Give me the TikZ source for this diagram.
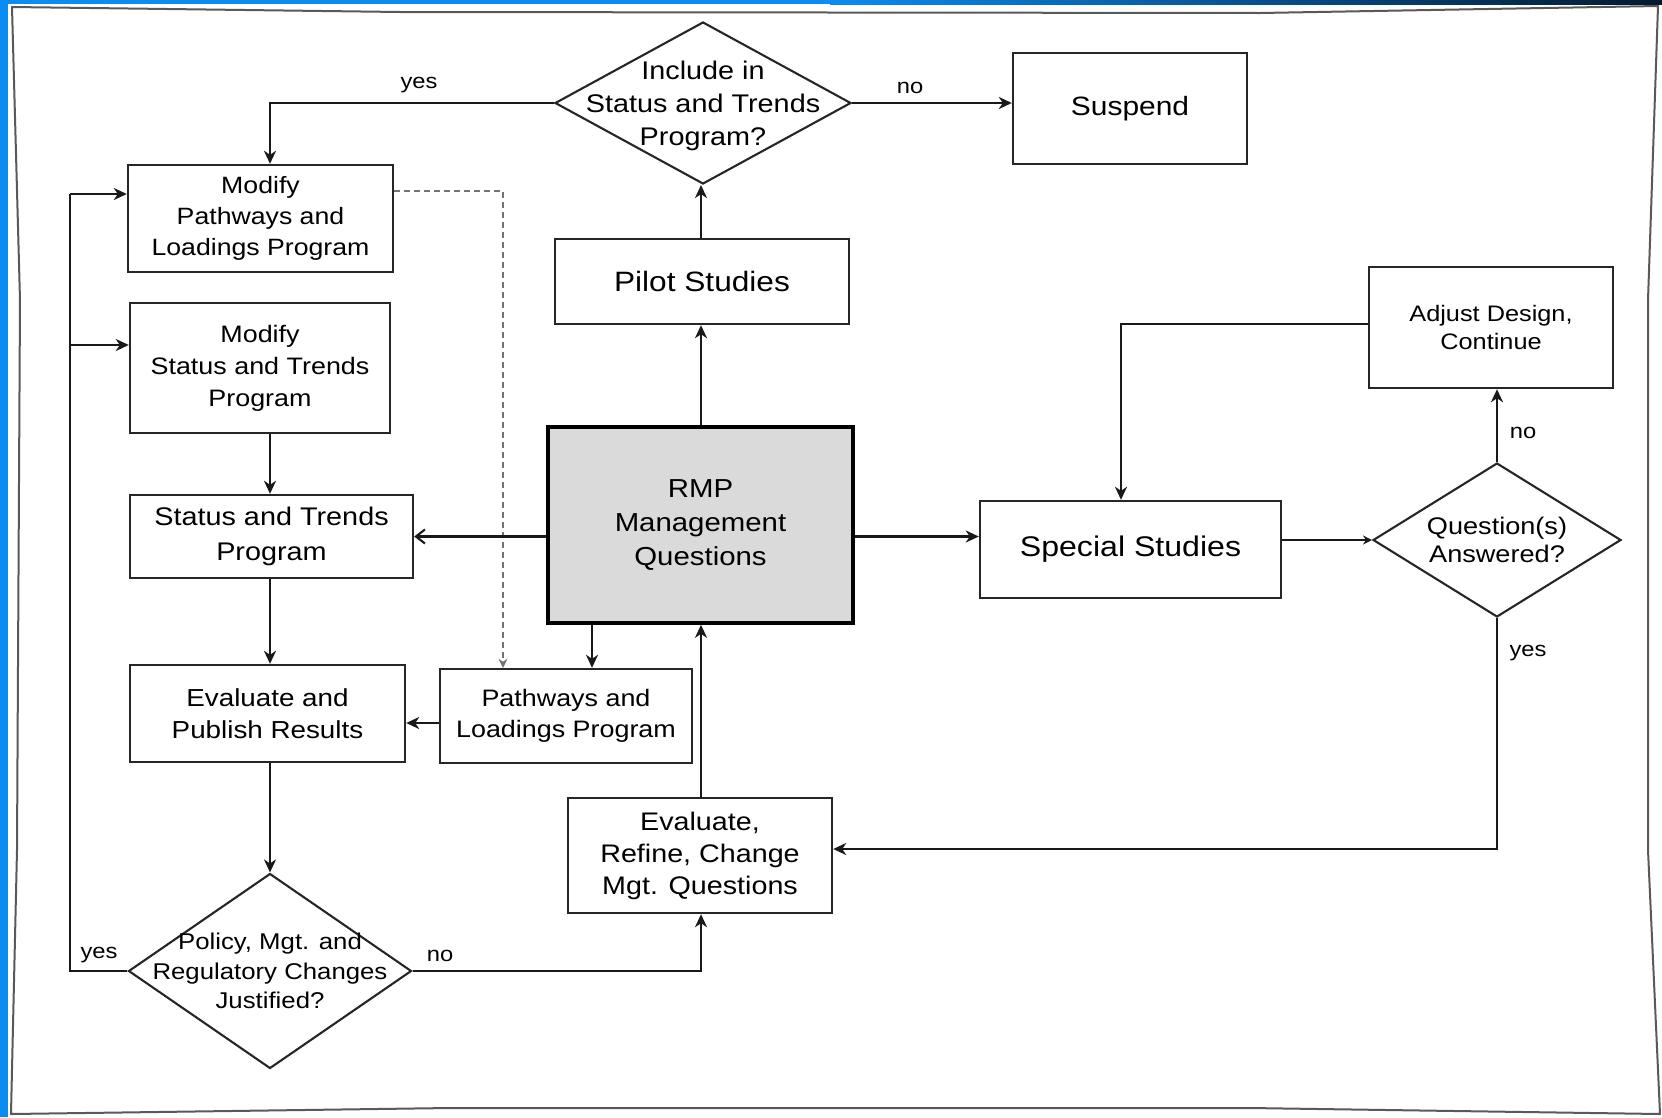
\documentclass[tikz,border=0pt]{standalone}
\usepackage{fontspec}
\setmainfont{Liberation Sans}[FakeStretch=1.13]
\usetikzlibrary{shapes.geometric,arrows.meta}
\definecolor{bgblue}{HTML}{0A8CF2}
\definecolor{navy}{HTML}{04182E}
\definecolor{rmpgray}{HTML}{DADADA}
\newcommand{\fs}[2]{\fontsize{#1pt}{#2pt}\selectfont}
\begin{document}
\begin{tikzpicture}[x=1pt,y=-1pt,
  box/.style={draw=black!85, line width=2.4pt, fill=white, inner sep=0pt, align=center},
  dia/.style={draw=black!85, line width=2.1pt, diamond, fill=white, inner sep=0pt},
  txt/.style={inner sep=0pt, align=center},
  lab/.style={inner sep=0pt, font=\fs{21}{25}},
  con/.style={line width=2.1pt, draw=black!90},
  arr/.style={con, -{Stealth[length=13pt,width=12pt,inset=4pt]}},
  sarr/.style={con, -{Stealth[length=9pt,width=9pt,inset=3pt]}},
  oarr/.style={con, -{Straight Barb[length=9pt,width=14pt]}},
  dasharr/.style={line width=1.7pt, draw=black!55, dash pattern=on 6pt off 4pt, -{Stealth[length=9pt,width=9pt,inset=3pt]}},
]
\useasboundingbox (0,0) rectangle (1662,1117);
% background
\fill[white] (0,0) rectangle (1662,1117);
\fill[bgblue] (0,0) rectangle (8,1117);
\fill[bgblue] (0,0) rectangle (830,4);
\shade[left color=bgblue, right color=navy] (830,0) rectangle (1662,4);
% hand-drawn frame
\draw[line width=2pt, draw=black!65, line join=round] (12,7) -- (400,12) -- (1260,13) -- (1658,6) -- (1648,300) -- (1648,850) -- (1660,1114) -- (1250,1108) -- (450,1108) -- (11,1114) -- (17,850) -- (20,300) -- cycle;

% helper coordinates
\coordinate (cx) at (270,0);
\coordinate (vx) at (701,0);
\coordinate (px) at (592,0);
\coordinate (lp1) at (70,194);
\coordinate (lp2) at (70,345);
\coordinate (dd) at (503,191);
\coordinate (yEP) at (0,723);
\coordinate (ay) at (1121,324);
\coordinate (yb) at (0,849);

% nodes
\node[dia, minimum width=296pt, minimum height=162pt] (d1) at (703,103) {};
\node[txt, font=\fs{25.5}{33}] (d1t) at (703,106) {Include in\\Status and Trends\\Program?};
\node[box, minimum width=234pt, minimum height=111pt, font=\fs{26.5}{32}] (suspend) at (1130,108.5) {Suspend};
\node[box, minimum width=294pt, minimum height=85pt, font=\fs{28}{34}] (pilot) at (702,281.5) {Pilot Studies};
\node[box, minimum width=265pt, minimum height=107pt, font=\fs{23.6}{31}] (mpl) at (260.5,218.5) {Modify\\Pathways and\\Loadings Program};
\node[box, minimum width=260pt, minimum height=130pt, font=\fs{23.8}{32}] (mst) at (260,368) {Modify\\Status and Trends\\Program};
\node[box, minimum width=283pt, minimum height=83pt, font=\fs{25.5}{35}] (st) at (271.5,536.5) {Status and Trends\\Program};
\node[box, minimum width=275pt, minimum height=97pt, font=\fs{24.6}{32}] (ep) at (267.5,713.5) {Evaluate and\\Publish Results};
\node[box, minimum width=252pt, minimum height=94pt, font=\fs{23.8}{31}] (pl) at (566,716) {Pathways and\\Loadings Program};
\node[box, minimum width=264pt, minimum height=115pt, font=\fs{25.4}{32}] (er) at (700,855.5) {Evaluate,\\Refine, Change\\Mgt. Questions};
\node[box, fill=rmpgray, draw=black, line width=3.6pt, minimum width=305pt, minimum height=196pt, font=\fs{26}{34}] (rmp) at (700.5,525) {RMP\\Management\\Questions};
\node[box, minimum width=301pt, minimum height=97pt, font=\fs{28.4}{34}] (special) at (1130.5,549.5) {Special Studies};
\node[box, minimum width=244pt, minimum height=121pt, font=\fs{22.4}{28}] (adjust) at (1491,327.5) {Adjust Design,\\Continue};
\node[dia, minimum width=248pt, minimum height=154pt] (d2) at (1497,540) {};
\node[txt, font=\fs{24}{28}] (d2t) at (d2) {Question(s)\\Answered?};
\node[dia, minimum width=283pt, minimum height=195pt] (d3) at (270,971) {};
\node[txt, font=\fs{22.8}{29.5}] (d3t) at (d3) {Policy, Mgt. and\\Regulatory Changes\\Justified?};

% labels
\node[lab] (l1) at (419,85) {yes};
\node[lab] (l2) at (910,88) {no};
\node[lab] (l3) at (1523,433) {no};
\node[lab] (l4) at (1528,653) {yes};
\node[lab] (l5) at (99,955) {yes};
\node[lab] (l6) at (440,956) {no};

% connectors
\draw[arr] (d1.west) -- (cx |- d1.west) -- (cx |- mpl.north);
\draw[arr] (d1.east) -- (suspend.west |- d1.east);
\draw[arr] (vx |- pilot.north) -- (vx |- d1.south);
\draw[arr] (vx |- rmp.north) -- (vx |- pilot.south);
\draw[dasharr] (mpl.east |- dd) -- (dd) -- (dd |- pl.north);
\draw[con] (d3.west) -- (lp1 |- d3.west) -- (lp1);
\draw[arr] (lp1) -- (mpl.west |- lp1);
\draw[arr] (lp2) -- (mst.west |- lp2);
\draw[arr] (cx |- mst.south) -- (cx |- st.north);
\draw[oarr] (rmp.west |- st.east) -- (st.east);
\draw[arr] (cx |- st.south) -- (cx |- ep.north);
\draw[arr] (pl.west |- yEP) -- (ep.east |- yEP);
\draw[arr] (px |- rmp.south) -- (px |- pl.north);
\draw[arr] (vx |- er.north) -- (vx |- rmp.south);
\draw[arr] (cx |- ep.south) -- (cx |- d3.north);
\draw[arr] (d3.east) -- (vx |- d3.east) -- (vx |- er.south);
\draw[arr] (rmp.east |- st.east) -- (special.west |- st.east);
\draw[sarr] (special.east |- d2.west) -- (d2.west);
\draw[arr] (d2.north) -- (d2.north |- adjust.south);
\draw[arr] (adjust.west |- ay) -- (ay) -- (ay |- special.north);
\draw[arr] (d2.south) -- (d2.south |- yb) -- (er.east |- yb);
\end{tikzpicture}
\end{document}
